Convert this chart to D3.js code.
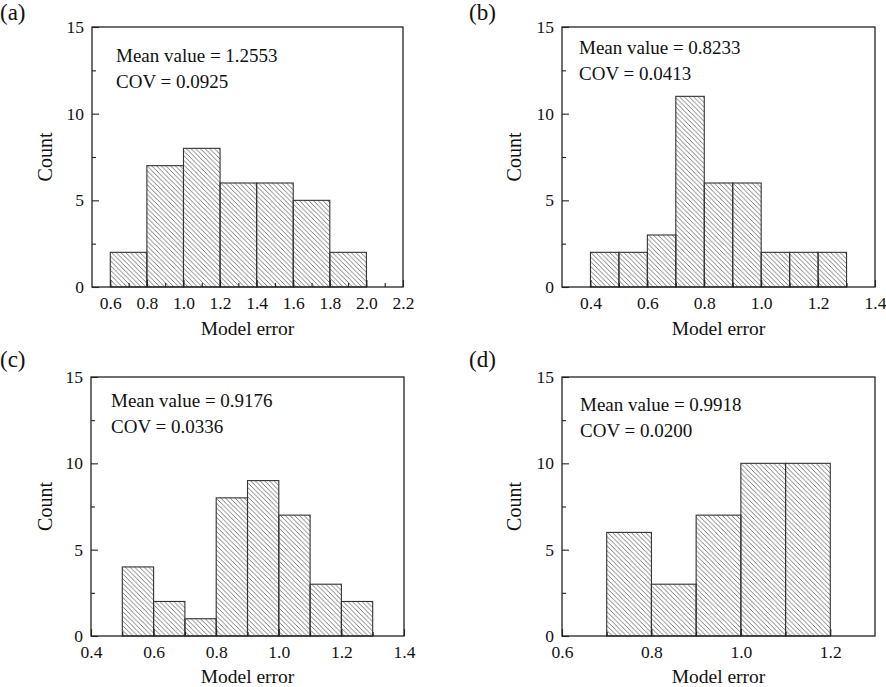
<!DOCTYPE html>
<html>
<head>
<meta charset="utf-8">
<script src="https://cdn.jsdelivr.net/npm/d3@7"></script>
<style>
  body { margin: 0; background: #fff; }
  svg { display: block; font-family: "Liberation Serif", "Times New Roman", serif; }
</style>
</head>
<body>
<svg id="chart" width="886" height="687"></svg>
<script>
// ---- Data ----
const panelLabels = ["(a)", "(b)", "(c)", "(d)"];
const meanValues = ["1.2553", "0.8233", "0.9176", "0.9918"];
const covValues = ["0.0925", "0.0413", "0.0336", "0.0200"];

const binStartsA = [0.6, 0.8, 1.0, 1.2, 1.4, 1.6, 1.8];
const countsA    = [2, 7, 8, 6, 6, 5, 2];
const binWidthA  = 0.2;

const binStartsB = [0.4, 0.5, 0.6, 0.7, 0.8, 0.9, 1.0, 1.1, 1.2];
const countsB    = [2, 2, 3, 11, 6, 6, 2, 2, 2];
const binWidthB  = 0.1;

const binStartsC = [0.5, 0.6, 0.7, 0.8, 0.9, 1.0, 1.1, 1.2];
const countsC    = [4, 2, 1, 8, 9, 7, 3, 2];
const binWidthC  = 0.1;

const binStartsD = [0.7, 0.8, 0.9, 1.0, 1.1];
const countsD    = [6, 3, 7, 10, 10];
const binWidthD  = 0.1;

const xDomainA = [0.5, 2.2], xTicksA = [0.6, 0.8, 1.0, 1.2, 1.4, 1.6, 1.8, 2.0, 2.2], xMinorA = [0.7, 0.9, 1.1, 1.3, 1.5, 1.7, 1.9, 2.1];
const xDomainB = [0.3, 1.4], xTicksB = [0.4, 0.6, 0.8, 1.0, 1.2, 1.4], xMinorB = [0.5, 0.7, 0.9, 1.1, 1.3];
const xDomainC = [0.4, 1.4], xTicksC = [0.4, 0.6, 0.8, 1.0, 1.2, 1.4], xMinorC = [0.5, 0.7, 0.9, 1.1, 1.3];
const xDomainD = [0.6, 1.3], xTicksD = [0.6, 0.8, 1.0, 1.2], xMinorD = [0.7, 0.9, 1.1];

const yDomain = [0, 15];
const yTicks = [0, 5, 10, 15];
const yMinor = [2.5, 7.5, 12.5];

const xTitle = "Model error";
const yTitle = "Count";

// ---- Layout ----
const panels = [
  { label: panelLabels[0], mean: meanValues[0], cov: covValues[0], starts: binStartsA, counts: countsA, bw: binWidthA,
    xd: xDomainA, xt: xTicksA, xm: xMinorA, box: {l: 92, r: 403, t: 27, b: 287}, lab: {x: 0, y: 20}, ann: {x: 116, y: 62}, ylx: 47, xty: 335 },
  { label: panelLabels[1], mean: meanValues[1], cov: covValues[1], starts: binStartsB, counts: countsB, bw: binWidthB,
    xd: xDomainB, xt: xTicksB, xm: xMinorB, box: {l: 562, r: 875, t: 27, b: 287}, lab: {x: 469, y: 20}, ann: {x: 579, y: 54}, ylx: 516, xty: 335 },
  { label: panelLabels[2], mean: meanValues[2], cov: covValues[2], starts: binStartsC, counts: countsC, bw: binWidthC,
    xd: xDomainC, xt: xTicksC, xm: xMinorC, box: {l: 91, r: 404, t: 377, b: 636}, lab: {x: 0, y: 367}, ann: {x: 111, y: 407}, ylx: 47, xty: 683 },
  { label: panelLabels[3], mean: meanValues[3], cov: covValues[3], starts: binStartsD, counts: countsD, bw: binWidthD,
    xd: xDomainD, xt: xTicksD, xm: xMinorD, box: {l: 562, r: 875, t: 377, b: 636}, lab: {x: 469, y: 367}, ann: {x: 580, y: 411}, ylx: 516, xty: 683 }
];

const svg = d3.select("#chart");

// hatch pattern
const defs = svg.append("defs");
const pat = defs.append("pattern")
  .attr("id", "hatch")
  .attr("patternUnits", "userSpaceOnUse")
  .attr("width", 4.7).attr("height", 4.7);
pat.append("path")
  .attr("d", "M-1,-1 L5.7,5.7 M-1,3.7 L1,5.7 M3.7,-1 L5.7,1")
  .attr("stroke", "#5a5a5a").attr("stroke-width", 0.8);

const fmt = d3.format(".1f");

panels.forEach(p => {
  const g = svg.append("g");
  const x = d3.scaleLinear().domain(p.xd).range([p.box.l, p.box.r]);
  const y = d3.scaleLinear().domain(yDomain).range([p.box.b, p.box.t]);

  // bars
  g.selectAll("rect.bar").data(p.starts.map((s, i) => ({s, c: p.counts[i]})))
    .enter().append("rect")
    .attr("class", "bar")
    .attr("x", d => x(d.s))
    .attr("width", d => x(d.s + p.bw) - x(d.s))
    .attr("y", d => y(d.c))
    .attr("height", d => y(0) - y(d.c))
    .attr("fill", "url(#hatch)")
    .attr("stroke", "#333")
    .attr("stroke-width", 1.1);

  // frame
  g.append("rect")
    .attr("x", p.box.l).attr("y", p.box.t)
    .attr("width", p.box.r - p.box.l).attr("height", p.box.b - p.box.t)
    .attr("fill", "none").attr("stroke", "#222").attr("stroke-width", 1.3);

  // x axis
  const xa = g.append("g").attr("transform", `translate(0,${p.box.b})`)
    .call(d3.axisBottom(x).tickValues(p.xt).tickFormat(fmt).tickSizeInner(-7).tickSizeOuter(0).tickPadding(10));
  const xm = g.append("g").attr("transform", `translate(0,${p.box.b})`)
    .call(d3.axisBottom(x).tickValues(p.xm).tickFormat("").tickSizeInner(-4).tickSizeOuter(0));
  // y axis
  const ya = g.append("g").attr("transform", `translate(${p.box.l},0)`)
    .call(d3.axisLeft(y).tickValues(yTicks).tickFormat(d3.format("d")).tickSizeInner(-7).tickSizeOuter(0).tickPadding(8));
  const ym = g.append("g").attr("transform", `translate(${p.box.l},0)`)
    .call(d3.axisLeft(y).tickValues(yMinor).tickFormat("").tickSizeInner(-4).tickSizeOuter(0));

  [xa, xm, ya, ym].forEach(a => {
    a.select(".domain").remove();
    a.selectAll("line").attr("stroke", "#222").attr("stroke-width", 1.1);
    a.selectAll("text").attr("fill", "#111").style("font-family", "Liberation Serif").style("font-size", "17.5px");
  });

  // titles
  g.append("text")
    .attr("x", (p.box.l + p.box.r) / 2).attr("y", p.xty)
    .attr("text-anchor", "middle").attr("font-size", 19.5).attr("fill", "#111")
    .text(xTitle);
  g.append("text")
    .attr("transform", `translate(${p.ylx},${(p.box.t + p.box.b) / 2}) rotate(-90)`)
    .attr("text-anchor", "middle").attr("dominant-baseline", "middle")
    .attr("font-size", 20).attr("fill", "#111")
    .text(yTitle);

  // panel label
  g.append("text").attr("x", p.lab.x).attr("y", p.lab.y)
    .attr("font-size", 23).attr("fill", "#111").text(p.label);

  // annotation
  g.append("text").attr("x", p.ann.x).attr("y", p.ann.y)
    .attr("font-size", 19).attr("fill", "#111").text("Mean value = " + p.mean);
  g.append("text").attr("x", p.ann.x).attr("y", p.ann.y + 26)
    .attr("font-size", 19).attr("fill", "#111").text("COV = " + p.cov);
});
</script>
</body>
</html>
